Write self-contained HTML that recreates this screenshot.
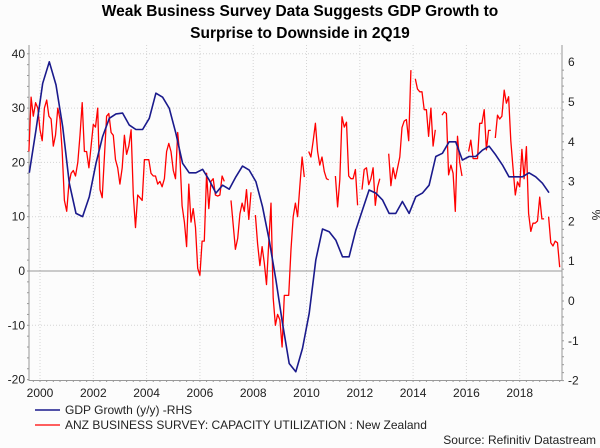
<!DOCTYPE html>
<html><head><meta charset="utf-8"><style>
body{margin:0;background:#fff;}
#wrap{position:relative;width:600px;height:448px;background:#fcfcfc;font-family:"Liberation Sans",sans-serif;overflow:hidden;}
.title{position:absolute;left:0;width:600px;text-align:center;font-weight:bold;font-size:15.5px;color:#000;}
</style></head><body>
<div id="wrap">
<div class="title" style="top:3px">Weak Business Survey Data Suggests GDP Growth to</div>
<div class="title" style="top:25px">Surprise to Downside in 2Q19</div>
<svg id="svg" width="600" height="448" style="position:absolute;left:0;top:0"></svg>
</div>
<script>
const gdpStart = 1999.6;
const gdpValues = [3.22,4.30,5.47,6.01,5.43,4.38,2.96,2.20,2.12,2.62,3.46,4.13,4.59,4.70,4.72,4.42,4.31,4.31,4.59,5.22,5.12,4.84,4.21,3.46,3.22,3.22,3.31,3.04,2.71,2.91,2.81,3.12,3.39,3.29,3.00,2.37,1.53,0.53,-0.56,-1.57,-1.78,-1.19,-0.31,1.03,1.81,1.74,1.53,1.11,1.11,1.78,2.29,2.79,2.71,2.54,2.20,2.20,2.50,2.20,2.62,2.71,2.91,3.63,3.71,4.00,4.00,3.54,3.63,3.63,3.79,3.89,3.67,3.42,3.12,3.12,3.12,3.22,3.12,2.96,2.72];
const anzStart = 1999 + 7/12;
const anzValues = [22,32,28.5,31,30,
26,24,30,31.5,28.5,28,23,25,30,28,22,13,
11,16,18,18.5,17.5,20,25,31,22,22,19,23,
27,26.5,30,15,13.5,21,28.5,29,25.5,25,20.5,19,
16,19,25,21.5,23,26,14,8,14,13.5,13,20.5,
20.5,20.5,18,17.5,17.5,16,16.5,15.5,17,22,23.5,22,
18.5,17,25.5,21,12,9,4.5,16,9,11.5,8,0.5,
-0.8,5.5,5.5,18,11.5,16.5,17,14,13.8,14,17.5,16.5,
null,null,13,8.5,4,6,10.5,12.5,11,15,9.5,14.5,
null,10.3,5,1,4.5,1.5,-2.5,5,12.5,-5,-10,-8,
-9,-14,-4.5,-4.5,-4.5,4,10,12.5,10,15.5,21,17.3,
null,22,21,24,27.2,22,19.5,21,18.3,17,16.8,null,
null,17.5,11.8,16.8,28.4,26.5,27.4,17.5,17,17,18.7,12.1,
null,15,18.7,19,15.9,17,19,12.1,15.5,17,null,null,
null,21.6,15.7,19,17,19,21,26.4,27.6,27.9,24,37,
null,35.4,33.5,33,33,29.7,29.7,24.8,30,23,26,null,
null,28.7,29.3,29,17.7,19.5,18,11,24.8,20,17.5,null,
null,22,24.1,20.7,20.7,20.7,27.2,27.2,29.7,22.3,25.9,25.9,
null,24.5,28.7,28,28.5,33.3,30.9,32.1,24,19,14,16.4,
15.5,22.4,17,22.9,10.6,7.3,8.8,8.8,9.2,13.6,9.6,9.6,
null,10,5.2,4.6,5.5,5.2,0.7];
const leftTicks = [40,30,20,10,0,-10,-20];
const rightTicks = [6,5,4,3,2,1,0,-1,-2];
const yearTicks = [2000,2002,2004,2006,2008,2010,2012,2014,2016,2018];

const X0=29, X1=562;
const xS = t => 40 + (t-2000)*26.65;
const yL = v => 271 - v*5.43;
const yR = v => 301 - v*39.8;
const svg = document.getElementById('svg');
const NS='http://www.w3.org/2000/svg';
function mk(tag, attrs){const e=document.createElementNS(NS,tag);for(const k in attrs)e.setAttribute(k,attrs[k]);svg.appendChild(e);return e;}

for(const v of leftTicks){ if(v===-20) continue;
  const g=mk('line',{x1:X0,x2:X1,y1:yL(v),y2:yL(v),stroke:'#d4d4d4','stroke-dasharray':'1,2'});
  
  
}
for(const yr of yearTicks){
  const g=mk('line',{x1:xS(yr),x2:xS(yr),y1:45,y2:380,stroke:'#d4d4d4','stroke-dasharray':'1,2'});
  
  
  const t=mk('text',{x:xS(yr),y:397,'font-size':'12','text-anchor':'middle',fill:'#222'});
  t.textContent=yr;
  
  
}
const z=mk('line',{x1:X0,x2:X1,y1:yL(0),y2:yL(0),stroke:'#999','stroke-width':1});


const la=mk('line',{x1:X0,x2:X0,y1:45,y2:381,stroke:'#999'});


const ra=mk('line',{x1:X1,x2:X1,y1:45,y2:381,stroke:'#999'});


const ba=mk('line',{x1:X0,x2:X1,y1:380.5,y2:380.5,stroke:'#999'});


for(let v=-20;v<=40;v+=2){mk('line',{x1:X0-2,x2:X0,y1:yL(v),y2:yL(v),stroke:'#999'});}
for(let v=-2;v<=6;v+=0.2){mk('line',{x1:X1,x2:X1+2,y1:yR(v),y2:yR(v),stroke:'#999'});}
for(let t=1999.75;t<2019.6;t+=0.25){mk('line',{x1:xS(t),x2:xS(t),y1:380,y2:382,stroke:'#999'});}
for(const v of leftTicks){
  const t=mk('text',{x:25,y:yL(v)+4,'font-size':'12','text-anchor':'end',fill:'#222'});
  t.textContent=v;
  
  
}
for(const v of rightTicks){
  const t=mk('text',{x:568,y:yR(v)+4,'font-size':'12','text-anchor':'start',fill:'#222'});
  t.textContent=v;
  
  
}
const pct=mk('text',{x:592,y:215,'font-size':'12','text-anchor':'middle',fill:'#222',transform:'rotate(90 592 215)'});
pct.textContent='%';



let d='', pen=false;
anzValues.forEach((v,i)=>{
  if(v===null){pen=false;return;}
  const x=xS(anzStart+i/12), y=yL(v);
  d+=(pen?'L':'M')+x.toFixed(1)+' '+y.toFixed(1);
  pen=true;
});
const red=mk('path',{d:d,fill:'none',stroke:'#ff0000','stroke-width':1.3,'stroke-linejoin':'round'});


let db='';
gdpValues.forEach((v,i)=>{db+=(i?'L':'M')+xS(gdpStart+i*0.25).toFixed(1)+' '+yR(v).toFixed(1);});
const blue=mk('path',{d:db,fill:'none',stroke:'#1a1a8c','stroke-width':1.6,'stroke-linejoin':'round'});



const l1=mk('line',{x1:35,x2:60,y1:410,y2:410,stroke:'#1a1a8c','stroke-width':1.6});


const t1=mk('text',{x:65,y:414,'font-size':'12',fill:'#222'});t1.textContent='GDP Growth (y/y) -RHS';


const l2=mk('line',{x1:35,x2:60,y1:425,y2:425,stroke:'#ff0000','stroke-width':1.3});


const t2=mk('text',{x:65,y:429,'font-size':'12',fill:'#222'});t2.textContent='ANZ BUSINESS SURVEY: CAPACITY UTILIZATION : New Zealand';


const src=mk('text',{x:596,y:444,'font-size':'12','text-anchor':'end',fill:'#222'});src.textContent='Source: Refinitiv Datastream';


</script>
</body></html>
